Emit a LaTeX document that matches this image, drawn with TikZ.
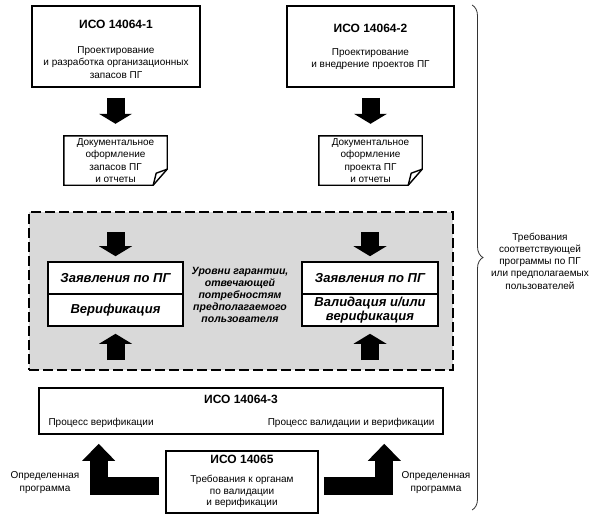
\documentclass[tikz,border=0pt]{standalone}
\usepackage{fontspec}
\setmainfont{Liberation Sans}
\usetikzlibrary{arrows.meta}
\usetikzlibrary{decorations.pathreplacing}
\tikzstyle{box} = [rectangle,draw=black,line width=1.6pt,fill=white,inner sep=0pt]
\tikzstyle{doc} = [rectangle,inner sep=0pt,minimum width=103pt,minimum height=49pt,
align=center, font=\fontsize{10}{12.4}\selectfont]
\tikzstyle{body} = [align=center, font=\fontsize{10}{12.3}\selectfont]
\tikzstyle{title} = [font=\fontsize{12}{14}\selectfont\bfseries]
\tikzstyle{claim} = [align=center, font=\fontsize{13}{14}\selectfont\bfseries\itshape]
\tikzstyle{remark} = [align=center, font=\fontsize{10.5}{12}\selectfont\bfseries\itshape]
\tikzstyle{bigarrow} = [line width=18pt,-{Triangle[width=33pt,length=10pt,line width=0pt]}]
\tikzstyle{larrow} = [line width=18pt,-{Triangle[width=33pt,length=17pt,line width=0pt]}]
\newcommand{\docframe}[1]{ %
  % Sheet outline with a folded lower right corner.
  \draw[line width=1.4pt] (#1.north west) -- (#1.north east)
    -- ([yshift=16pt]#1.south east) -- ([xshift=-14pt]#1.south east)
    -- (#1.south west) -- cycle;
  \draw[line width=1.4pt] ([yshift=16pt]#1.south east)
    -- ([xshift=-11pt,yshift=12pt]#1.south east) -- ([xshift=-14pt]#1.south east);
}
\begin{document}
\begin{tikzpicture}[x=1pt,y=-1pt]
  \useasboundingbox (0,0) rectangle (594,522);

  % upper standards
  \node[box, minimum width=168pt, minimum height=81pt] (iso1) at (116,46.5) {};
  \node[title] (iso1t) at (116,24) {ИСО 14064-1};
  \node[body] (iso1b) at (116,62.5) {Проектирование\\и разработка организационных\\запасов ПГ};
  \node[box, minimum width=167pt, minimum height=81pt] (iso2) at (370.5,46.5) {};
  \node[title] (iso2t) at (370.5,28) {ИСО 14064-2};
  \node[body] (iso2b) at (370.5,59) {Проектирование\\и внедрение проектов ПГ};

  % documents
  \node[doc] (docA) at (115.5,160.5) {Документальное\\оформление\\запасов ПГ\\и отчеты};
  \docframe{docA}
  \node[doc] (docB) at (370.5,160.5) {Документальное\\оформление\\проекта ПГ\\и отчеты};
  \docframe{docB}
  \draw[bigarrow, shorten <=10pt, shorten >=12pt] (iso1.south -| docA.north) -- (docA.north);
  \draw[bigarrow, shorten <=10pt, shorten >=12pt] (iso2.south) -- (docB.north);

  % assurance zone
  \node[rectangle, draw=black, fill=gray!30, line width=1.8pt, dash pattern=on 10pt off 4pt,
    minimum width=424pt, minimum height=158pt] (zone) at (241,291) {};
  \node[box, minimum width=135pt, minimum height=32pt] (stmtA) at (115.5,278) {};
  \node[claim] at (stmtA) {Заявления по ПГ};
  \node[box, minimum width=135pt, minimum height=32pt] (verA) at (115.5,310) {};
  \node[claim] at (verA) {Верификация};
  \node[box, minimum width=136pt, minimum height=32pt] (stmtB) at (370,278) {};
  \node[claim] at (stmtB) {Заявления по ПГ};
  \node[box, minimum width=136pt, minimum height=32pt] (verB) at (370,310) {};
  \node[claim, font=\fontsize{13}{14}\selectfont\bfseries\itshape] at (verB) {Валидация и/или\\верификация};
  \node[remark] (levels) at (240,295) {Уровни гарантии,\\отвечающей\\потребностям\\предполагаемого\\пользователя};
  \draw[bigarrow, shorten <=47pt, shorten >=5pt] (docA.south) -- (stmtA.north);
  \draw[bigarrow, shorten <=47pt, shorten >=5pt] (docB.south -| stmtB.north) -- (stmtB.north);

  % lower standards
  \node[box, minimum width=404pt, minimum height=46pt] (iso3) at (241,411) {};
  \node[title] (iso3t) at (241,399) {ИСО 14064-3};
  \node[body, anchor=west] (procA) at (45,423) {Процесс верификации};
  \node[body, anchor=east] (procB) at (438,423) {Процесс валидации и верификации};
  \draw[bigarrow, shorten <=27pt, shorten >=7pt] (verA.south |- iso3.north) -- (verA.south);
  \draw[bigarrow, shorten <=27pt, shorten >=7pt] (verB.south |- iso3.north) -- (verB.south);

  \node[box, minimum width=152pt, minimum height=62pt] (iso5) at (242,482) {};
  \node[title] (iso5t) at (242,459) {ИСО 14065};
  \node[body, font=\fontsize{10}{11.6}\selectfont] (iso5b) at (242,491.5) {Требования к органам\\по валидации\\и верификации};

  \coordinate (tipL) at ([xshift=60.5pt]iso3.south west);
  \coordinate (tipR) at ([xshift=-59.5pt]iso3.south east);
  \draw[larrow, shorten <=6pt, shorten >=9pt] ([yshift=-4pt]iso5.west) -| (tipL);
  \draw[larrow, shorten <=5pt, shorten >=9pt] ([yshift=-4pt]iso5.east) -| (tipR);
  \node[body] (progL) at (45,482.5) {Определенная\\программа};
  \node[body] (progR) at (436,482.5) {Определенная\\программа};

  % scope brace
  \coordinate (braceTop) at (472,5);
  \coordinate (braceBot) at (472,510);
  \draw[line width=0.8pt, black!80, decorate, decoration={brace, amplitude=11pt}] (braceTop) -- (braceBot);
  \node[body] (needs) at (540,261) {Требования\\соответствующей\\программы по ПГ\\или предполагаемых\\пользователей};
\end{tikzpicture}
\end{document}
